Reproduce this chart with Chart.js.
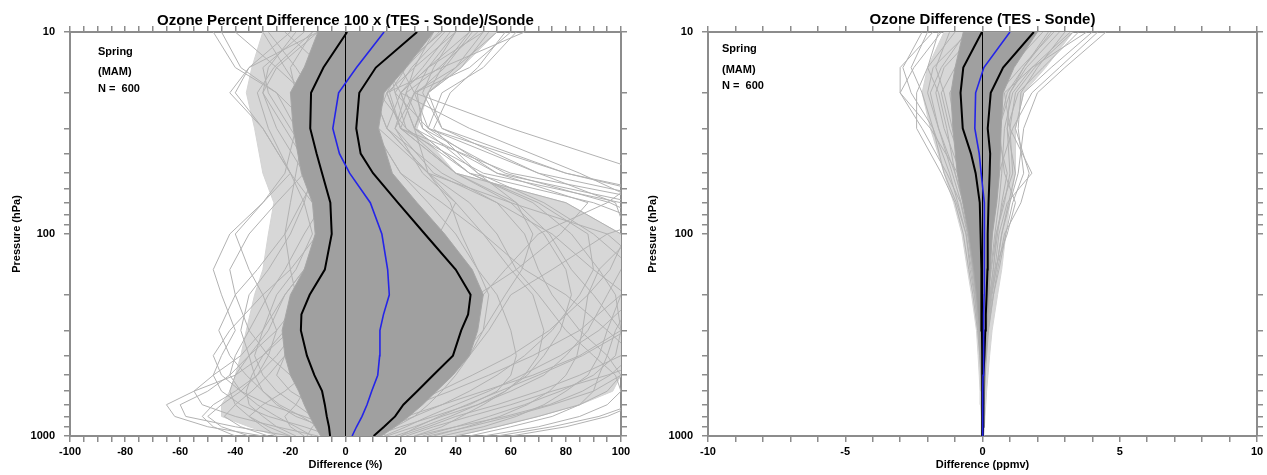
<!DOCTYPE html>
<html>
<head>
<meta charset="utf-8">
<script src="https://cdn.jsdelivr.net/npm/chart.js@4.4.1/dist/chart.umd.min.js"></script>
<style>
  body { margin: 0; background: #fff; }
  #wrap { position: relative; width: 1267px; height: 475px; }
  canvas { position: absolute; top: 0; }
</style>
</head>
<body>
<div id="wrap">
  <canvas id="pct" width="634" height="475" style="left:0px"></canvas>
  <canvas id="ppm" width="633" height="475" style="left:634px"></canvas>
</div>
<script>
// pressure levels (hPa) of the statistics curves
var statLevels = [1000, 900, 800, 700, 600, 500, 400, 300, 250, 200, 150, 100, 70, 50, 40, 30, 20, 15, 10];
// pressure levels of the single profiles and of the spread bands
var profLevels = [1000, 900, 800, 700, 600, 500, 400, 300, 200, 150, 100, 70, 50, 30, 20, 15, 10];

// axis ticks
var pressureTicks = [10, 20, 30, 40, 50, 60, 70, 80, 90, 100, 200, 300, 400, 500, 600, 700, 800, 900, 1000];
var pressureLabels = [10, 100, 1000];
var pctLabels = [-100, -80, -60, -40, -20, 0, 20, 40, 60, 80, 100];
var ppmLabels = [-10, -5, 0, 5, 10];
var zeroLevels = [1000, 10];
var zeroValues = [0, 0];

var noteLines = ['Spring', '(MAM)', 'N =  600'];

// ---- left panel: percent difference ----
var pctMean  = [2.4, 4, 6, 7.8, 9.5, 11.7, 12.4, 12.5, 13.8, 15.9, 15.3, 13.2, 9, 1.5, -2.2, -4.6, -2.5, 4, 14];
var pctMinus = [-5.6, -6, -6.8, -7.5, -8.5, -11.3, -14, -16.2, -16, -13, -7.5, -5, -5.5, -8.5, -10.5, -12.8, -12.5, -8, 0.6];
var pctPlus  = [10.2, 14, 18, 21, 26, 31.8, 39, 42, 44.5, 45.4, 40, 28.8, 19, 10, 5.5, 3.9, 5, 11, 26];

// dense core and outer spread of the 600 profiles
var pctCoreLo = [-9, -11, -13, -15, -17, -20, -22, -23, -20, -15, -11, -12, -16, -19, -20, -15, -10];
var pctCoreHi = [13, 18, 23, 28, 33, 39, 45, 48, 50, 46, 36, 26, 17, 12, 14, 22, 32];
var pctOuterLo = [-25, -35, -45, -45, -42, -40, -38, -36, -33, -30, -28, -26, -30, -33, -36, -34, -30];
var pctOuterHi = [40, 55, 70, 85, 97, 100, 100, 100, 100, 100, 100, 80, 40, 26, 30, 42, 55];

var pctProfiles = [
  [-30, -50, -62, -65, -55, -40, -30, -20, -15, -10, -5, -3, -8, -15, -20, -15, -5],
  [-20, -40, -58, -60, -50, -42, -35, -28, -22, -15, -8, -10, -15, -25, -30, -25, -10],
  [-10, -25, -40, -52, -55, -48, -38, -30, -25, -18, -12, -15, -20, -30, -40, -35, -20],
  [-35, -45, -50, -45, -38, -32, -28, -25, -30, -35, -40, -30, -22, -18, -25, -40, -48],
  [5, -5, -15, -28, -38, -45, -48, -42, -30, -20, -10, -5, -10, -20, -28, -30, -15],
  [0, -8, -18, -25, -30, -33, -35, -38, -35, -28, -20, -15, -12, -15, -18, -10, 5],
  [-15, -20, -22, -18, -15, -20, -28, -35, -40, -42, -35, -25, -15, -5, 0, 5, 10],
  [10, 5, -5, -12, -20, -25, -22, -15, -10, -5, 0, 5, 8, 5, 10, 20, 35],
  [20, 30, 40, 55, 70, 85, 100, 110, 115, 110, 95, 60, 30, 15, 20, 30, 45],
  [30, 45, 60, 75, 90, 100, 108, 112, 110, 105, 100, 80, 40, 20, 25, 40, 55],
  [15, 25, 35, 48, 60, 72, 80, 88, 95, 100, 110, 115, 60, 20, 15, 25, 40],
  [40, 55, 70, 85, 95, 100, 95, 85, 75, 70, 65, 55, 35, 15, 10, 20, 35],
  [5, 15, 25, 35, 45, 55, 65, 75, 85, 90, 88, 70, 45, 25, 20, 30, 50],
  [60, 80, 95, 105, 110, 110, 105, 95, 80, 65, 50, 35, 20, 10, 15, 35, 65],
  [10, 20, 32, 45, 55, 60, 62, 60, 55, 48, 40, 30, 20, 10, 5, 15, 30],
  [25, 35, 42, 50, 58, 65, 70, 72, 68, 60, 50, 40, 28, 18, 25, 45, 60],
  [-5, 0, 8, 18, 28, 38, 45, 50, 52, 48, 42, 38, 30, 25, 30, 40, 50],
  [35, 50, 62, 72, 80, 88, 92, 95, 100, 115, 130, 120, 70, 30, 25, 30, 40],
  [0, 10, 22, 35, 50, 68, 85, 100, 112, 120, 125, 100, 50, 20, 15, 20, 25],
  [50, 70, 85, 95, 100, 98, 90, 80, 70, 62, 55, 45, 30, 15, 10, 18, 28],
  [12, 18, 25, 30, 35, 40, 45, 52, 60, 75, 95, 130, 80, 35, 30, 35, 45],
  [-25, -30, -35, -40, -42, -40, -35, -25, -15, -5, 5, 10, 5, -5, -15, -25, -40],
  [-5, -15, -28, -38, -45, -48, -45, -40, -45, -48, -42, -30, -20, -30, -42, -35, -10],
  [2, -3, -8, -12, -10, -5, 0, 5, 10, 15, 18, 15, 10, 2, -5, -2, 10],
  [8, 12, 18, 22, 28, 30, 32, 30, 28, 25, 22, 18, 12, 8, 5, 12, 22],
  [-12, -18, -25, -32, -38, -42, -40, -35, -28, -22, -15, -8, -2, 0, 3, 10, 20],
  [45, 60, 75, 85, 90, 92, 95, 98, 105, 112, 118, 105, 55, 25, 20, 28, 38],
  [-8, -5, 0, 8, 15, 22, 30, 38, 48, 62, 78, 88, 55, 30, 35, 50, 62],
  [18, 28, 38, 48, 58, 66, 72, 78, 82, 80, 72, 60, 40, 22, 12, 10, 18],
  [-20, -28, -35, -30, -22, -15, -8, -2, 5, 10, 12, 8, 0, -10, -18, -20, -12],
  [15, 10, 5, 0, -5, -8, -12, -15, -18, -20, -22, -20, -18, -15, -10, 0, 15],
  [28, 40, 52, 65, 78, 90, 98, 100, 98, 92, 82, 68, 45, 25, 30, 42, 52],
  [-40, -48, -52, -48, -40, -32, -25, -18, -10, -5, 0, 2, -3, -12, -25, -38, -45],
  [22, 32, 45, 60, 75, 95, 115, 125, 120, 105, 90, 72, 48, 28, 22, 25, 32],
  [-2, 5, 12, 20, 28, 35, 40, 45, 50, 58, 70, 95, 110, 60, 25, 20, 30],
  [4, 8, 15, 25, 38, 52, 68, 85, 100, 110, 115, 108, 85, 45, 20, 15, 22],
  [-18, -25, -30, -35, -36, -34, -30, -22, -12, -6, -2, -6, -12, -22, -30, -28, -18],
  [25, 40, 58, 74, 86, 96, 104, 108, 102, 90, 75, 55, 32, 18, 22, 34, 48],
  [-3, -6, -12, -18, -25, -30, -33, -30, -22, -15, -8, -12, -20, -28, -32, -26, -12],
  [14, 22, 30, 40, 52, 64, 78, 92, 106, 118, 120, 90, 45, 22, 18, 24, 36],
  [-28, -38, -44, -40, -34, -28, -22, -18, -14, -10, -4, 0, -4, -10, -16, -22, -30],
  [6, 10, 16, 24, 34, 46, 60, 74, 88, 96, 102, 98, 70, 35, 28, 32, 40],
  [32, 44, 56, 66, 74, 80, 84, 86, 88, 92, 105, 125, 80, 30, 18, 16, 24],
  [-6, -10, -16, -24, -30, -36, -42, -46, -40, -32, -22, -16, -10, -8, -12, -18, -28],
  [55, 75, 92, 104, 112, 115, 110, 100, 90, 82, 74, 62, 40, 20, 16, 22, 34],
  [0, 4, 10, 18, 26, 34, 42, 50, 58, 64, 68, 62, 48, 32, 38, 48, 58],
  [-14, -12, -8, -2, 4, 10, 16, 20, 24, 28, 34, 40, 30, 12, 0, -8, -22],
  [20, 26, 34, 44, 56, 70, 86, 102, 118, 126, 120, 96, 58, 28, 26, 36, 46]
];

// ---- right panel: absolute difference (ppmv) ----
var ppmMean  = [0, 0, 0.01, 0.01, 0.01, 0.02, 0.03, 0.04, 0.05, 0.06, 0.07, 0.07, 0.06, -0.05, -0.12, -0.28, -0.25, 0.05, 1.0];
var ppmMinus = [-0.01, -0.01, -0.01, -0.01, -0.01, -0.01, -0.01, -0.02, -0.03, -0.04, -0.05, -0.07, -0.1, -0.25, -0.42, -0.72, -0.8, -0.7, -0.02];
var ppmPlus  = [0.01, 0.02, 0.02, 0.03, 0.03, 0.05, 0.07, 0.1, 0.12, 0.15, 0.18, 0.19, 0.22, 0.26, 0.28, 0.19, 0.3, 0.75, 1.87];

var ppmCoreLo = [-0.02, -0.02, -0.03, -0.03, -0.04, -0.05, -0.07, -0.1, -0.22, -0.32, -0.5, -0.72, -0.92, -1.08, -1.15, -1.0, -0.7];
var ppmCoreHi = [0.03, 0.04, 0.05, 0.06, 0.08, 0.1, 0.12, 0.15, 0.24, 0.28, 0.36, 0.52, 0.62, 0.68, 0.75, 1.15, 2.0];
var ppmOuterLo = [-0.03, -0.04, -0.05, -0.07, -0.09, -0.12, -0.16, -0.22, -0.4, -0.55, -0.75, -1.05, -1.4, -1.9, -2.2, -2.0, -1.4];
var ppmOuterHi = [0.05, 0.07, 0.09, 0.12, 0.15, 0.2, 0.26, 0.35, 0.55, 0.7, 0.85, 1.0, 1.2, 1.2, 1.5, 2.3, 3.3];

var ppmProfiles = [
  [0, 0, 0, -0.01, -0.02, -0.04, -0.08, -0.15, -0.3, -0.45, -0.6, -0.9, -1.2, -1.8, -2.6, -2.9, -2.2],
  [0, 0, 0, 0.01, 0.02, 0.05, 0.1, 0.2, 0.35, 0.5, 0.7, 1.0, 1.3, 1.5, 2.0, 3.0, 4.5],
  [0, 0, 0.01, 0.02, 0.04, 0.08, 0.12, 0.2, 0.4, 0.55, 0.8, 1.4, 1.7, 1.2, 1.5, 2.5, 4.0],
  [0, 0, 0, 0, -0.01, -0.02, -0.05, -0.1, -0.2, -0.35, -0.55, -0.8, -1.3, -2.2, -3.0, -2.5, -1.5],
  [0, 0, 0, 0.01, 0.01, 0.03, 0.06, 0.12, 0.25, 0.4, 0.5, 0.8, 1.0, 0.9, 1.3, 2.2, 3.5],
  [0, 0, 0, -0.01, -0.01, -0.03, -0.06, -0.12, -0.25, -0.35, -0.5, -0.7, -1.0, -1.6, -2.0, -1.8, -0.5],
  [0, 0.01, 0.02, 0.03, 0.05, 0.08, 0.12, 0.18, 0.3, 0.45, 0.6, 0.9, 1.8, 1.0, 0.8, 1.8, 3.2],
  [0, 0, 0, 0, 0, -0.01, -0.03, -0.06, -0.15, -0.25, -0.4, -0.6, -0.8, -1.4, -1.7, -1.4, -0.2],
  [0, 0, 0.01, 0.01, 0.02, 0.04, 0.08, 0.15, 0.3, 0.45, 0.9, 1.2, 0.8, 0.6, 1.0, 1.6, 2.8],
  [0, 0, 0, -0.01, -0.03, -0.06, -0.1, -0.18, -0.35, -0.5, -0.7, -1.0, -1.5, -2.4, -2.4, -2.0, -1.0],
  [0, 0, 0, 0.01, 0.02, 0.03, 0.05, 0.1, 0.2, 0.3, 0.45, 0.6, 0.7, 0.8, 1.1, 1.8, 3.8],
  [0, 0, 0, 0, -0.01, -0.02, -0.04, -0.08, -0.18, -0.3, -0.45, -0.55, -0.7, -1.0, -1.2, -0.6, 0.5],
  [0, 0.01, 0.01, 0.02, 0.03, 0.05, 0.1, 0.16, 0.28, 0.38, 0.55, 0.7, 0.9, 0.5, 0.4, 1.0, 2.2],
  [0, 0, 0, -0.01, -0.02, -0.03, -0.05, -0.1, -0.2, -0.3, -0.4, -0.5, -0.9, -1.9, -3.0, -3.0, -1.8],
  [0, 0, 0, 0.01, 0.01, 0.02, 0.04, 0.08, 0.15, 0.22, 0.35, 0.5, 0.6, 1.1, 1.8, 2.8, 4.2],
  [0, 0, 0, 0, 0, -0.01, -0.02, -0.04, -0.1, -0.18, -0.3, -0.35, -0.5, -0.7, -0.5, 0.2, 1.5],
  [0, 0.01, 0.02, 0.04, 0.06, 0.1, 0.15, 0.22, 0.4, 0.6, 0.85, 1.1, 1.5, 1.3, 1.4, 2.0, 3.0],
  [0, 0, 0, -0.01, -0.02, -0.05, -0.09, -0.15, -0.28, -0.4, -0.6, -0.95, -1.4, -1.8, -2.2, -2.6, -2.0],
  [0, 0, 0, 0.01, 0.01, 0.02, 0.03, 0.06, 0.12, 0.2, 0.3, 0.4, 0.45, 0.3, 0.6, 1.4, 2.6],
  [0, 0, 0, 0, -0.01, -0.02, -0.04, -0.07, -0.14, -0.2, -0.3, -0.45, -0.6, -1.2, -1.5, -1.0, 0.0],
  [0, 0, 0, 0.01, 0.02, 0.04, 0.07, 0.12, 0.22, 0.32, 0.5, 0.75, 1.1, 1.0, 1.2, 1.9, 3.3],
  [0, 0, 0, -0.01, -0.02, -0.04, -0.07, -0.12, -0.24, -0.36, -0.52, -0.78, -1.1, -1.6, -1.9, -1.5, -0.6],
  [0, 0, 0.01, 0.02, 0.03, 0.06, 0.1, 0.16, 0.32, 0.5, 0.7, 0.95, 1.2, 0.9, 1.0, 1.5, 2.5],
  [0, 0, 0, 0, -0.01, -0.03, -0.05, -0.09, -0.2, -0.3, -0.48, -0.7, -1.0, -1.3, -1.6, -2.0, -1.6],
  [0, 0, 0, 0.01, 0.01, 0.02, 0.04, 0.07, 0.14, 0.2, 0.28, 0.38, 0.5, 0.6, 0.9, 1.5, 2.4],
  [0, 0, 0, -0.01, -0.01, -0.02, -0.03, -0.05, -0.12, -0.22, -0.35, -0.5, -0.75, -1.1, -1.4, -1.7, -1.2]
];

var FONT = '"Liberation Sans", Arial, Helvetica, sans-serif';
var AXIS_GRAY = '#8c8c8c';

// turn a list of values into {x, y} points on the given pressure levels
function profile(levels, values) {
  return values.map(function (v, i) { return { x: v, y: levels[i] }; });
}

// closed outline: up the low edge, back down the high edge
function band(levels, lo, hi) {
  var pts = profile(levels, lo);
  for (var i = hi.length - 1; i >= 0; i--) {
    pts.push({ x: hi[i], y: levels[i] });
  }
  return pts;
}

// draws the season text in the upper left corner
var notesPlugin = {
  id: 'notes',
  afterDatasetsDraw: function (chart, args, opts) {
    var ctx = chart.ctx;
    var area = chart.chartArea;
    ctx.save();
    ctx.font = 'bold 11px ' + FONT;
    ctx.fillStyle = '#000';
    ctx.textBaseline = 'middle';
    for (var i = 0; i < noteLines.length; i++) {
      ctx.fillText(noteLines[i], area.left + opts.dx, area.top + opts.dy[i]);
    }
    ctx.restore();
  }
};

function makePanel(id, p) {
  var datasets = [];

  // outer spread of the profiles (many overlapping thin lines)
  datasets.push({
    data: band(profLevels, p.outerLo, p.outerHi),
    showLine: true, pointRadius: 0,
    borderColor: '#d4d4d4', borderWidth: 1,
    backgroundColor: '#d7d7d7',
    fill: 'shape',
    order: 6
  });

  // single profiles (light gray)
  p.profiles.forEach(function (vals) {
    datasets.push({
      data: profile(profLevels, vals),
      showLine: true, pointRadius: 0,
      borderColor: '#b2b2b2', borderWidth: 1,
      order: 5
    });
  });

  // dense core of the 600 profiles
  datasets.push({
    data: band(profLevels, p.coreLo, p.coreHi),
    showLine: true, pointRadius: 0,
    borderColor: '#a6a6a6', borderWidth: 1,
    backgroundColor: '#a0a0a0',
    fill: 'shape',
    order: 4
  });

  // zero line
  datasets.push({
    data: profile(zeroLevels, zeroValues),
    showLine: true, pointRadius: 0,
    borderColor: '#000', borderWidth: 1,
    order: 3
  });

  // mean - sd and mean + sd
  [p.minus, p.plus].forEach(function (vals) {
    datasets.push({
      data: profile(statLevels, vals),
      showLine: true, pointRadius: 0,
      borderColor: '#000', borderWidth: 2,
      order: 2
    });
  });

  // mean
  datasets.push({
    data: profile(statLevels, p.mean),
    showLine: true, pointRadius: 0,
    borderColor: '#2424e8', borderWidth: 1.6,
    order: 1
  });

  var xTicks = {
    stepSize: p.step,
    autoSkip: false, maxRotation: 0,
    padding: 3,
    color: '#000',
    font: { family: FONT, size: 11, weight: 'bold' },
    callback: function (v) { return p.labels.indexOf(v) >= 0 ? String(v) : ''; }
  };
  var yTicks = {
    autoSkip: false,
    padding: 9,
    color: '#000',
    font: { family: FONT, size: 11, weight: 'bold' },
    callback: function (v) { return pressureLabels.indexOf(v) >= 0 ? String(v) : ''; }
  };
  var grid = { drawOnChartArea: false, drawTicks: true, tickLength: 6, color: AXIS_GRAY, lineWidth: 1.5 };
  var border = { display: true, color: AXIS_GRAY, width: 2 };
  var setPressureTicks = function (scale) {
    scale.ticks = pressureTicks.map(function (v) { return { value: v }; });
  };

  return new Chart(document.getElementById(id), {
    type: 'scatter',
    data: { datasets: datasets },
    plugins: [notesPlugin],
    options: {
      responsive: false,
      animation: false,
      devicePixelRatio: 1,
      events: [],
      layout: { padding: 0 },
      plugins: {
        legend: { display: false },
        tooltip: { enabled: false },
        notes: { dx: p.noteX, dy: p.noteY }
      },
      scales: {
        x: {
          type: 'linear', position: 'bottom', min: p.min, max: p.max,
          ticks: xTicks, grid: grid, border: border,
          title: {
            display: true, text: p.xTitle, color: '#000',
            font: { family: FONT, size: 11, weight: 'bold' },
            padding: { top: 0, bottom: 3 }
          },
          afterFit: function (s) { s.height = 39; }
        },
        x2: {
          type: 'linear', position: 'top', min: p.min, max: p.max,
          ticks: Object.assign({}, xTicks, { display: false }),
          grid: grid, border: border,
          title: {
            display: true, text: p.title, color: '#000',
            font: { family: FONT, size: 15, weight: 'bold' },
            padding: { top: p.titlePad, bottom: 0 }
          },
          afterFit: function (s) { s.height = 32; }
        },
        y: {
          type: 'logarithmic', position: 'left', reverse: true, min: 10, max: 1000,
          ticks: yTicks, grid: grid, border: border,
          afterBuildTicks: setPressureTicks,
          title: {
            display: true, text: 'Pressure (hPa)', color: '#000',
            font: { family: FONT, size: 11, weight: 'bold' },
            padding: { top: p.yTitlePad, bottom: 0 }
          },
          afterFit: function (s) { s.width = p.leftW; }
        },
        y2: {
          type: 'logarithmic', position: 'right', reverse: true, min: 10, max: 1000,
          ticks: Object.assign({}, yTicks, { display: false }),
          grid: grid, border: border,
          afterBuildTicks: setPressureTicks,
          afterFit: function (s) { s.width = p.rightW; }
        }
      }
    }
  });
}

makePanel('pct', {
  title: 'Ozone Percent Difference 100 x (TES - Sonde)/Sonde',
  xTitle: 'Difference (%)',
  min: -100, max: 100, step: 5, labels: pctLabels,
  mean: pctMean, minus: pctMinus, plus: pctPlus,
  coreLo: pctCoreLo, coreHi: pctCoreHi,
  outerLo: pctOuterLo, outerHi: pctOuterHi, profiles: pctProfiles,
  leftW: 70, rightW: 13, titlePad: 12, yTitlePad: 10,
  noteX: 28, noteY: [20, 40, 57]
});

makePanel('ppm', {
  title: 'Ozone Difference (TES - Sonde)',
  xTitle: 'Difference (ppmv)',
  min: -10, max: 10, step: 1, labels: ppmLabels,
  mean: ppmMean, minus: ppmMinus, plus: ppmPlus,
  coreLo: ppmCoreLo, coreHi: ppmCoreHi,
  outerLo: ppmOuterLo, outerHi: ppmOuterHi, profiles: ppmProfiles,
  leftW: 74, rightW: 10, titlePad: 11, yTitlePad: 12,
  noteX: 14, noteY: [17, 38, 54]
});
</script>
</body>
</html>
